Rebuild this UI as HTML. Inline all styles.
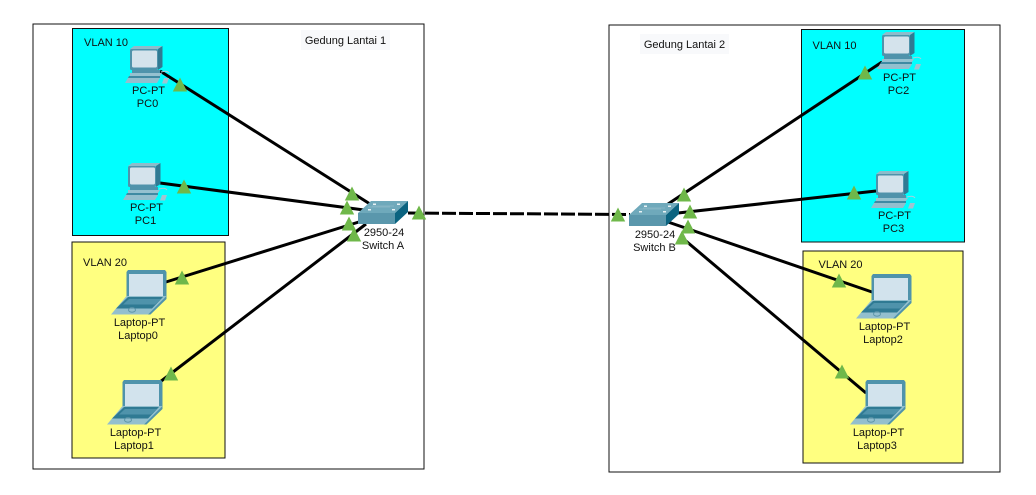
<!DOCTYPE html>
<html>
<head>
<meta charset="utf-8">
<style>
html,body{margin:0;padding:0;background:#fff;width:1036px;height:495px;overflow:hidden}
svg{display:block}
text{font-family:"Liberation Sans",sans-serif;font-size:11px;fill:#111;text-anchor:middle}
</style>
</head>
<body>
<svg width="1036" height="495" viewBox="0 0 1036 495" xmlns="http://www.w3.org/2000/svg">
<defs>
<g id="pc">
<polygon points="130,49 134,46 162.500,46 158,49" fill="#8dbccb"/>
<polygon points="158,49 162.500,46 162.500,67 158,70" fill="#2f7a93"/>
<rect x="130" y="49" width="28" height="21" rx="1.500" fill="#4f93ab"/>
<rect x="132" y="50.500" width="25" height="17" rx="1.500" fill="#d4e3ec"/>
<rect x="132" y="70" width="28" height="3" fill="#4f93ab"/>
<polygon points="130,73 162,73 160,76 130,76" fill="#95c1d0"/>
<polygon points="129,76 160,76 160,78 128,78" fill="#3f8aa3"/>
<polygon points="128,78 160,78 157,83 125,83" fill="#93bfce"/>
<path d="M161,72 q6,-2 8,1" fill="none" stroke="#a8cfdb" stroke-width="1"/>
<polygon points="164,78 169,78 167,83.500 162,83.500" fill="#9fc4d1"/>
</g>
<g id="lap">
<polygon points="128,270 165,270 166.500,272 166.500,298 126.500,298 126.500,272" fill="#4f93ab"/>
<rect x="129" y="274" width="34" height="22" fill="#d2e3ed"/>
<polygon points="126.500,296 166.500,296 149,314.500 111,314.500" fill="#93bfce"/>
<polygon points="128,297 163,297 152,308.500 116,308.500" fill="#2f7a93"/>
<polygon points="129,299 161,299 155,304.500 123,304.500" fill="#4f93ab"/>
<polygon points="166.500,296 166.500,299 150.500,314.500 148,314.500" fill="#4f93ab"/>
<ellipse cx="132" cy="310" rx="3.500" ry="2.200" fill="none" stroke="#5f96aa" stroke-width="1"/>
</g>
<g id="sw">
<polygon points="358,213 371,201 408,201 395,213" fill="#6fa9bb"/>
<rect x="358" y="213" width="37" height="11" fill="#5a97ac"/>
<polygon points="395,213 408,201 408,212 395,224" fill="#0b6380"/>
<g fill="#e8f2f5">
<rect x="373" y="203.500" width="3" height="1.500"/>
<rect x="397" y="203.500" width="3" height="1.500"/>
<rect x="368" y="209" width="3" height="1.500"/>
<rect x="392" y="209" width="3" height="1.500"/>
</g>
<path d="M372,206 L394,206 M368,207 L390,207" stroke="#8db9c8" stroke-width="0.700"/>
</g>
<polygon id="t" points="0,-7.500 7.200,6.500 -7.200,6.500" fill="#6fb84a"/>
</defs>

<rect x="33" y="24" width="391" height="445" fill="#fff" stroke="#111" stroke-width="1"/>
<rect x="609" y="25" width="391" height="447" fill="#fff" stroke="#111" stroke-width="1"/>

<rect x="72.500" y="28.500" width="156" height="207" fill="#00ffff" stroke="#111" stroke-width="1"/>
<rect x="72" y="242" width="153" height="216" fill="#ffff80" stroke="#111" stroke-width="1"/>
<rect x="801.500" y="29.500" width="163" height="212.500" fill="#00ffff" stroke="#111" stroke-width="1"/>
<rect x="803" y="251" width="160" height="212" fill="#ffff80" stroke="#111" stroke-width="1"/>

<rect x="301" y="30" width="89" height="20" fill="#f8f9fb"/>
<rect x="640" y="34" width="89" height="20" fill="#f8f9fb"/>
<text x="345.500" y="44">Gedung Lantai 1</text>
<text x="684.500" y="48">Gedung Lantai 2</text>
<text x="106" y="46">VLAN 10</text>
<text x="105" y="266">VLAN 20</text>
<text x="834.500" y="49">VLAN 10</text>
<text x="840.500" y="268">VLAN 20</text>

<g stroke="#000" stroke-width="3" fill="none">
<line x1="160" y1="71" x2="370" y2="204"/>
<line x1="160" y1="183" x2="364" y2="210"/>
<line x1="166" y1="282" x2="362" y2="221"/>
<line x1="160" y1="382" x2="366" y2="224"/>
<line x1="882" y1="62" x2="668" y2="204"/>
<line x1="876" y1="191" x2="678" y2="213"/>
<line x1="872" y1="292" x2="668" y2="222"/>
<line x1="866" y1="393" x2="680" y2="236"/>
<line x1="408" y1="213" x2="630" y2="214.500" stroke-dasharray="14 3"/>
</g>

<use href="#pc"/>
<use href="#pc" transform="translate(-2,117)"/>
<use href="#pc" transform="translate(752,-14)"/>
<use href="#pc" transform="translate(746,125)"/>
<use href="#lap"/>
<use href="#lap" transform="translate(-4,110)"/>
<use href="#lap" transform="translate(745,4)"/>
<use href="#lap" transform="translate(739,110)"/>
<use href="#sw"/>
<use href="#sw" transform="translate(271,2)"/>

<use href="#t" x="180" y="85"/>
<use href="#t" x="184" y="187"/>
<use href="#t" x="352" y="194"/>
<use href="#t" x="347" y="208"/>
<use href="#t" x="349" y="224"/>
<use href="#t" x="354" y="235"/>
<use href="#t" x="419" y="213"/>
<use href="#t" x="182" y="278"/>
<use href="#t" x="171" y="374"/>
<use href="#t" x="618" y="215"/>
<use href="#t" x="684" y="195"/>
<use href="#t" x="690" y="212"/>
<use href="#t" x="688" y="227"/>
<use href="#t" x="682" y="238"/>
<use href="#t" x="865" y="73"/>
<use href="#t" x="854" y="193"/>
<use href="#t" x="839" y="281"/>
<use href="#t" x="842" y="372"/>

<text x="148.500" y="94">PC-PT</text><text x="147.500" y="107">PC0</text>
<text x="146.500" y="211">PC-PT</text><text x="145.500" y="224">PC1</text>
<text x="899.500" y="81">PC-PT</text><text x="898.500" y="94">PC2</text>
<text x="894.500" y="219">PC-PT</text><text x="893.500" y="232">PC3</text>
<text x="139.500" y="326">Laptop-PT</text><text x="138" y="339">Laptop0</text>
<text x="135.500" y="436">Laptop-PT</text><text x="134" y="449">Laptop1</text>
<text x="884.500" y="330">Laptop-PT</text><text x="883" y="343">Laptop2</text>
<text x="878.500" y="436">Laptop-PT</text><text x="877" y="449">Laptop3</text>
<text x="384" y="236">2950-24</text><text x="383" y="249">Switch A</text>
<text x="655" y="238">2950-24</text><text x="654.500" y="251">Switch B</text>
</svg>
</body>
</html>
